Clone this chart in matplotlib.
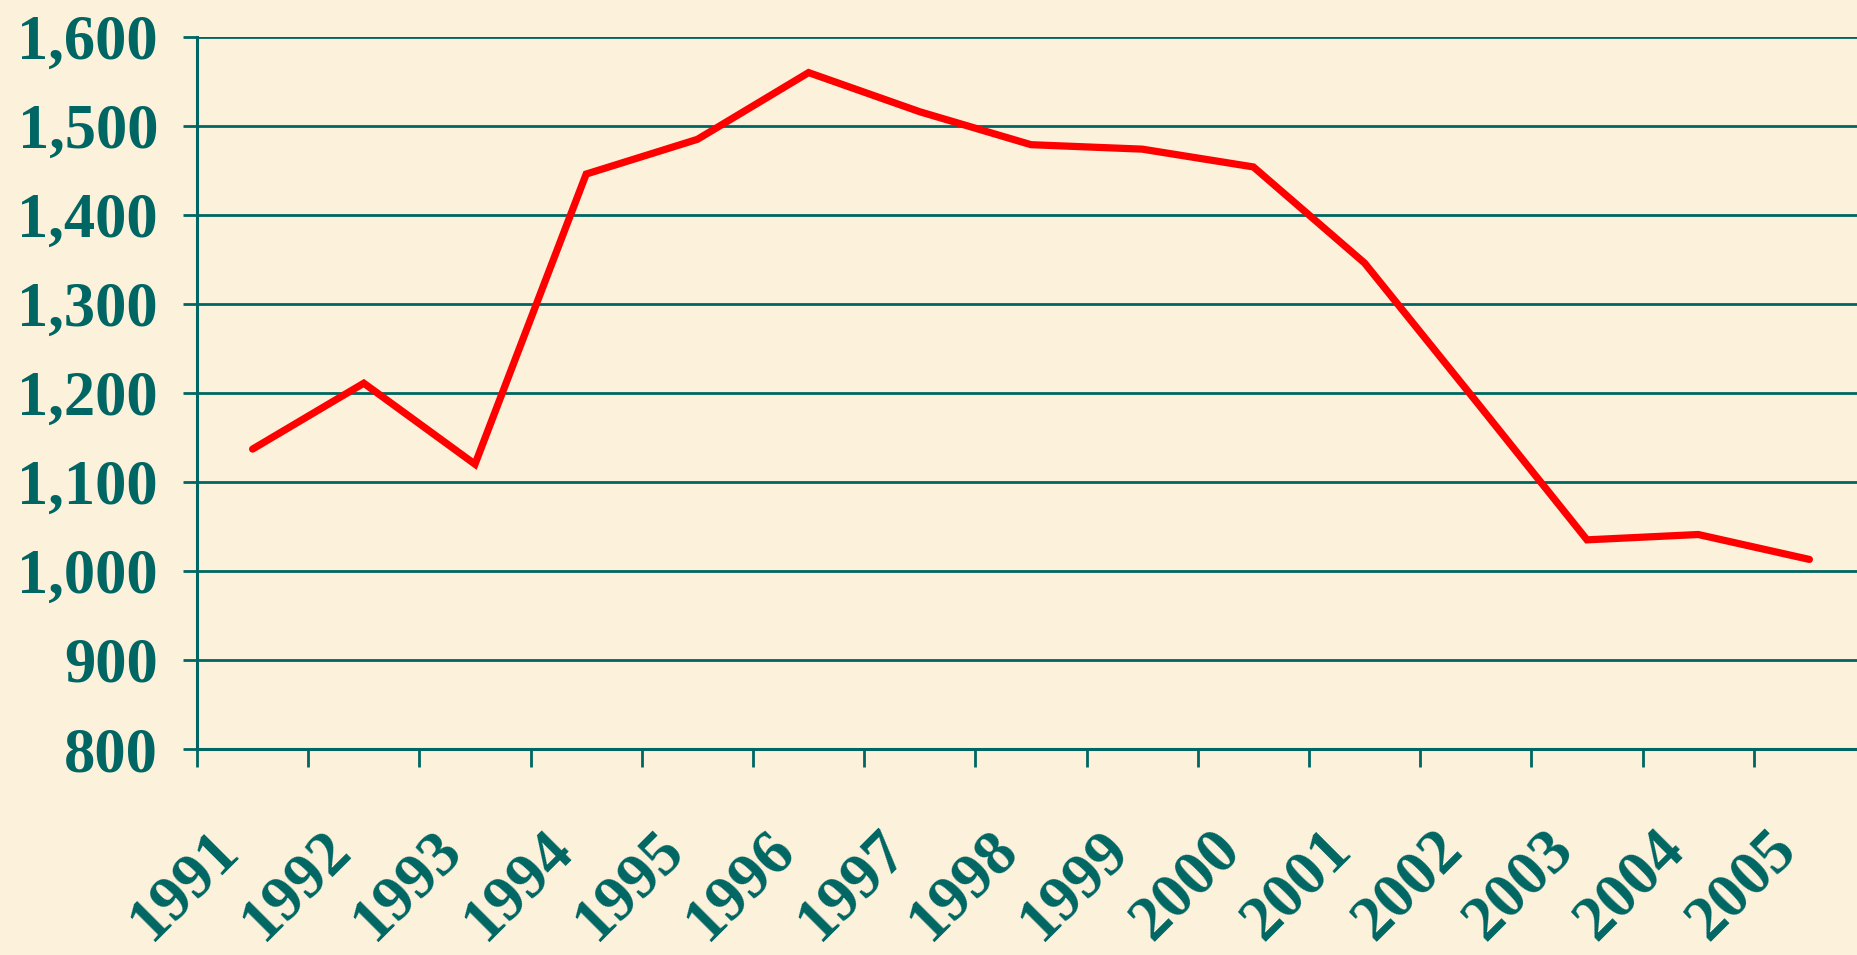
import matplotlib
matplotlib.use("Agg")
import matplotlib.pyplot as plt
from matplotlib.ticker import FuncFormatter, FixedLocator, NullFormatter

years = ["1991", "1992", "1993", "1994", "1995", "1996", "1997", "1998",
         "1999", "2000", "2001", "2002", "2003", "2004", "2005"]
values = [1137, 1211, 1120, 1446, 1485, 1560, 1516, 1479,
          1474, 1454, 1346, 1191, 1035, 1041, 1013]
y_ticks = [800, 900, 1000, 1100, 1200, 1300, 1400, 1500, 1600]

TEAL = "#006663"
BG = "#FCF1DA"
RED = "#FF0000"
FONT = "Liberation Serif"

fig = plt.figure(figsize=(18.58, 9.55), dpi=100)
fig.patch.set_facecolor(BG)
ax = fig.add_axes([197 / 1858, 1 - 749 / 955, 1668 / 1858, (749 - 37) / 955])
ax.set_facecolor(BG)

x = list(range(len(years)))
ax.plot(x, values, color=RED, lw=5.2, solid_joinstyle="miter", solid_capstyle="round", zorder=3)

ax.set_ylim(800, 1600)
ax.set_xlim(-0.5, len(years) - 0.5)

ax.set_yticks(y_ticks)
ax.yaxis.set_major_formatter(FuncFormatter(lambda v, p: f"{int(v):,}"))
ax.tick_params(axis="y", length=10, width=2, color=TEAL, pad=18, labelsize=45,
               labelcolor=TEAL)
for lab in ax.get_yticklabels():
    lab.set_fontfamily(FONT)
    lab.set_fontweight("bold")

ax.grid(axis="y", color=TEAL, lw=2.0, zorder=1)
ax.set_axisbelow(True)

# x ticks at category boundaries, labels placed manually under centres
ax.xaxis.set_major_locator(FixedLocator([i - 0.5 for i in range(len(years) + 1)]))
ax.xaxis.set_major_formatter(NullFormatter())
ax.tick_params(axis="x", length=13, width=2, color=TEAL)

for i, yr in enumerate(years):
    ax.annotate(yr, xy=(i, 0), xycoords=("data", "axes fraction"),
                xytext=(-16, -66), textcoords="offset points",
                rotation=45, rotation_mode="anchor", ha="right", va="center",
                fontsize=46, fontweight="bold", family=FONT, color=TEAL,
                annotation_clip=False)

for s in ["top", "right"]:
    ax.spines[s].set_visible(False)
for s in ["left", "bottom"]:
    ax.spines[s].set_color(TEAL)
    ax.spines[s].set_linewidth(2.2)

fig.savefig("out.png", dpi=100, facecolor=BG)
